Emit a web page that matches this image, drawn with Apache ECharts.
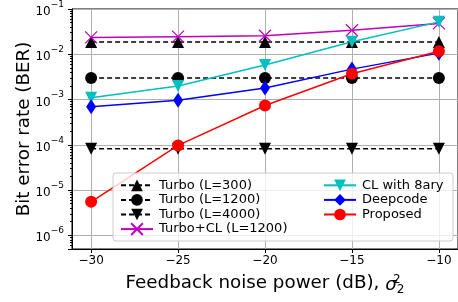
<!DOCTYPE html>
<html>
<head>
<meta charset="utf-8">
<script src="https://cdn.jsdelivr.net/npm/echarts@6/dist/echarts.min.js"></script>
<style>
  html, body { margin: 0; padding: 0; background: #fff; }
  #chart { width: 458px; height: 302px; }
</style>
</head>
<body>
<div id="chart"></div>
<script>
// feedback noise power (dB)
const noisePower = [-30, -25, -20, -15, -10];

// BER values
const turbo300 = [0.0186, 0.0186, 0.0186, 0.0186, 0.0186];
const turbo1200 = [0.003, 0.003, 0.003, 0.003, 0.003];
const turbo4000 = [8.2e-5, 8.2e-5, 8.2e-5, 8.2e-5, 8.2e-5];
const turboCL = [0.0236, 0.0245, 0.0256, 0.034, 0.048];
const cl8ary = [0.0011, 0.002, 0.0058, 0.019, 0.052];
const deepcode = [0.00069, 0.00097, 0.0018, 0.0047, 0.0106];
const proposed = [5.5e-6, 9.7e-5, 7.4e-4, 3.7e-3, 0.0117];

const xTicks = [-30, -25, -20, -15, -10];

const FONT = 'DejaVu Sans';
const chart = echarts.init(document.getElementById('chart'));

function pairs(ys) {
    return noisePower.map((x, i) => [x, ys[i]]);
}

function makeSeries(name, ys, color, symbol, opts) {
    return Object.assign({
        name: name,
        type: 'line',
        data: pairs(ys),
        symbol: symbol,
        symbolSize: 12,
        showAllSymbol: true,
        animation: false,
        color: color,
        itemStyle: { color: color },
        lineStyle: { color: color, width: 1.5 },
        emphasis: { disabled: true }
    }, opts || {});
}

const crossPath = 'path://M0,0L10,10M10,0L0,10';

const series = [
    makeSeries('Turbo (L=300)', turbo300, '#000000', 'triangle', {
        lineStyle: { color: '#000', width: 1.5, type: [5, 3] }
    }),
    makeSeries('Turbo (L=1200)', turbo1200, '#000000', 'circle', {
        lineStyle: { color: '#000', width: 1.5, type: [5, 3] }
    }),
    makeSeries('Turbo (L=4000)', turbo4000, '#000000', 'triangle', {
        symbolRotate: 180,
        lineStyle: { color: '#000', width: 1.5, type: [5, 3] }
    }),
    makeSeries('Turbo+CL (L=1200)', turboCL, '#bf00bf', crossPath, {
        symbolSize: 12,
        itemStyle: { color: '#bf00bf', borderColor: '#bf00bf', borderWidth: 1.2 }
    }),
    makeSeries('CL with 8ary', cl8ary, '#00bfbf', 'triangle', { symbolRotate: 180 }),
    makeSeries('Deepcode', deepcode, '#0000ff', 'diamond', { symbolSize: [10, 15] }),
    makeSeries('Proposed', proposed, '#ff0000', 'circle')
];

const legendCommon = {
    orient: 'vertical',
    itemWidth: 32,
    itemHeight: 14.6,
    itemGap: 0,
    selectedMode: false,
    textStyle: { fontFamily: FONT, fontSize: 13, color: '#000', lineHeight: 14.6, padding: [0, 0, 0, 1] }
};

const option = {
    animation: false,
    backgroundColor: '#fff',
    grid: {
        left: 72,
        top: 5,
        width: 391,
        height: 244,
        show: true,
        borderColor: '#000',
        borderWidth: 1,
        backgroundColor: 'transparent'
    },
    xAxis: {
        type: 'value',
        min: -31.1,
        max: -8.9,
        name: 'Feedback noise power (dB), {s|σ}{sup|2}{sub|2}',
        nameLocation: 'middle',
        nameGap: 24,
        nameMoveOverlap: false,
        nameTextStyle: {
            fontFamily: FONT, fontSize: 18.3, color: '#000',
            rich: {
                s: { fontFamily: FONT, fontSize: 18.3, fontStyle: 'italic', lineHeight: 21, verticalAlign: 'bottom' },
                sup: { fontFamily: FONT, fontSize: 12, lineHeight: 21, verticalAlign: 'top', padding: [1, 0, 0, 0], width: 0 },
                sub: { fontFamily: FONT, fontSize: 12, lineHeight: 21, verticalAlign: 'bottom', padding: [0, 0, -2, 0] }
            }
        },
        axisLine: { show: true, lineStyle: { color: '#000', width: 1 } },
        axisTick: { show: true, length: 4, lineStyle: { color: '#000' }, customValues: xTicks },
        axisLabel: {
            fontFamily: FONT, fontSize: 12, color: '#000', margin: 6,
            customValues: xTicks,
            formatter: v => String(v).replace('-', '\u2212')
        },
        splitLine: { show: true, lineStyle: { color: '#b0b0b0', width: 1 } }
    },
    yAxis: {
        type: 'log',
        logBase: 10,
        min: 5.0e-7,
        max: 0.1,
        name: 'Bit error rate (BER)',
        nameLocation: 'middle',
        nameGap: 39,
        nameMoveOverlap: false,
        nameTextStyle: { fontFamily: FONT, fontSize: 18.3, color: '#000' },
        axisLine: { show: true, lineStyle: { color: '#000', width: 1 } },
        axisTick: { show: true, length: 4, lineStyle: { color: '#000' } },
        minorTick: { show: true, splitNumber: 9, length: 2, lineStyle: { color: '#000' } },
        axisLabel: {
            showMinLabel: false,
            margin: 8,
            formatter: v => '{b|10}{e|\u2212' + Math.abs(Math.round(Math.log10(v))) + '}',
            rich: {
                b: { fontFamily: FONT, fontSize: 12, color: '#000', lineHeight: 18, verticalAlign: 'bottom' },
                e: { fontFamily: FONT, fontSize: 9, color: '#000', lineHeight: 18, verticalAlign: 'top' }
            }
        },
        splitLine: { show: true, lineStyle: { color: '#b0b0b0', width: 1 } }
    },
    graphic: [{
        type: 'rect',
        shape: { x: 113, y: 173, width: 340, height: 68, r: 3 },
        style: { fill: 'rgba(255,255,255,0.8)', stroke: '#cccccc', lineWidth: 1 },
        z: 50
    }],
    legend: [
        Object.assign({}, legendCommon, {
            left: 115, top: 173, z: 60,
            data: ['Turbo (L=300)', 'Turbo (L=1200)', 'Turbo (L=4000)', 'Turbo+CL (L=1200)']
        }),
        Object.assign({}, legendCommon, {
            left: 318, top: 173, z: 60,
            data: ['CL with 8ary', 'Deepcode', 'Proposed']
        })
    ],
    series: series
};

chart.setOption(option);
</script>
</body>
</html>
